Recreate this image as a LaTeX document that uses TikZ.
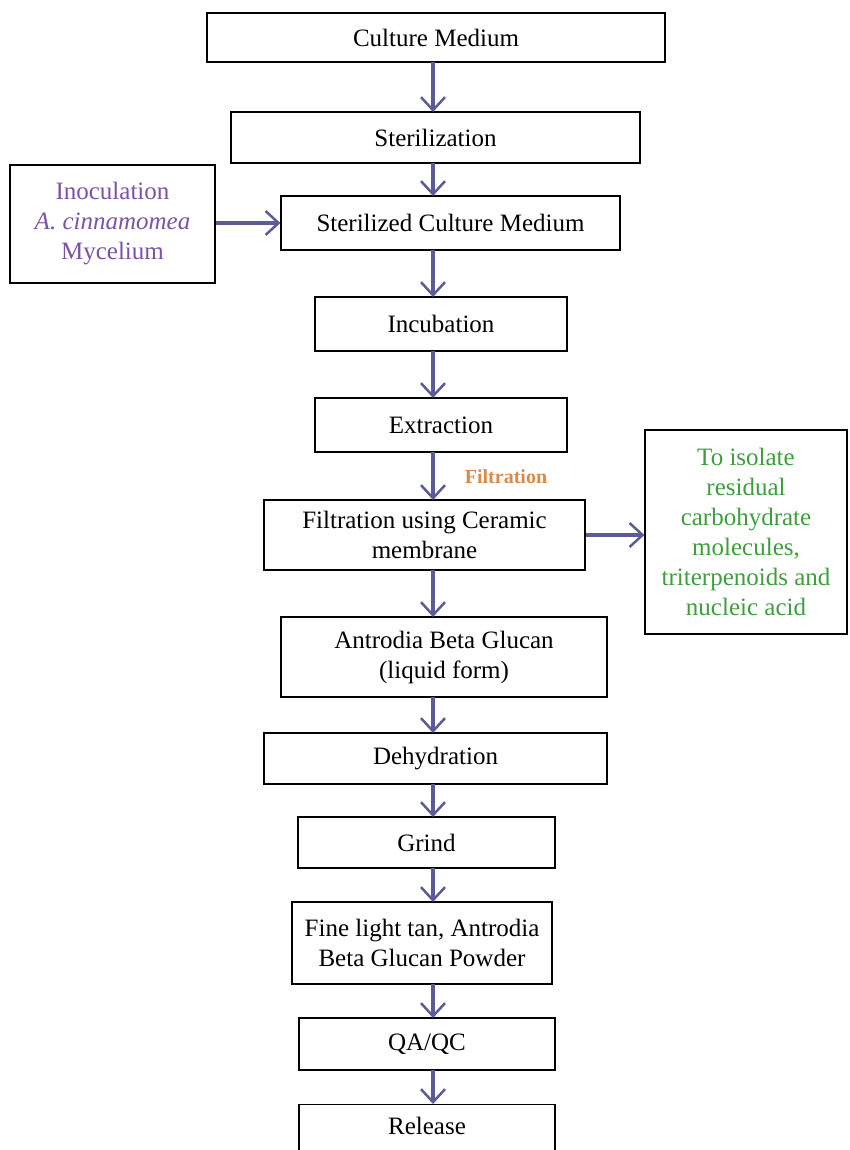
\documentclass[tikz,border=0pt]{standalone}
\usepackage{fontspec}
\setmainfont{Liberation Serif}
\usetikzlibrary{arrows.meta}
\definecolor{arr}{HTML}{5B5B96}
\definecolor{purp}{HTML}{7B52A6}
\definecolor{grn}{HTML}{3E9E3E}
\definecolor{orng}{HTML}{D98A4A}
\tikzset{
  box/.style={draw=black, line width=1.2pt, rectangle, inner sep=0pt, align=center,
    font=\fontsize{25}{30}\selectfont},
  flow/.style={draw=arr, line width=3.5pt, -{Straight Barb[length=13pt,width=24pt,line width=2.5pt]}},
}
\begin{document}
\begin{tikzpicture}[x=1pt,y=-1pt]
\useasboundingbox (0,0) rectangle (849,1150);
\clip (0,0) rectangle (849,1150);
\node[box, minimum width=458pt, minimum height=49pt] (cm) at (436,37.5) {Culture Medium};
\node[box, minimum width=409pt, minimum height=51pt] (st) at (435.5,137.5) {Sterilization};
\node[box, minimum width=205pt, minimum height=118pt, text=purp] (inoc) at (112.5,224) {Inoculation\\\textit{A. cinnamomea}\\Mycelium};
\node[box, minimum width=339pt, minimum height=54pt] (scm) at (450.5,223) {Sterilized Culture Medium};
\node[box, minimum width=252pt, minimum height=54pt] (inc) at (441,324) {Incubation};
\node[box, minimum width=252pt, minimum height=54pt] (ext) at (441,425) {Extraction};
\node[box, minimum width=321pt, minimum height=70pt] (fil) at (424.5,535) {Filtration using Ceramic\\membrane};
\node[box, minimum width=202pt, minimum height=204pt, text=grn] (iso) at (746,532) {To isolate\\residual\\carbohydrate\\molecules,\\triterpenoids and\\nucleic acid};
\node[box, minimum width=326pt, minimum height=80pt] (abg) at (444,657) {Antrodia Beta Glucan\\(liquid form)};
\node[box, minimum width=343pt, minimum height=51pt] (deh) at (435.5,758.5) {Dehydration};
\node[box, minimum width=257pt, minimum height=51pt] (gr) at (426.5,842.5) {Grind};
\node[box, minimum width=260pt, minimum height=82pt] (fine) at (422,943) {Fine light tan, Antrodia\\Beta Glucan Powder};
\node[box, minimum width=256pt, minimum height=52pt] (qa) at (427,1044) {QA/QC};
\node[box, minimum width=256pt, minimum height=56pt, anchor=north] (rel) at (427,1104) {\raisebox{14pt}{Release}};
\node[font=\fontsize{20}{22}\selectfont\bfseries, text=orng] (fl) at (506,477) {Filtration};
\draw[flow] (433,62) -- (433,112);
\draw[flow] (433,163) -- (433,196);
\draw[flow] (433,250) -- (433,297);
\draw[flow] (433,351) -- (433,398);
\draw[flow] (433,452) -- (433,500);
\draw[flow] (433,570) -- (433,617);
\draw[flow] (433,697) -- (433,733);
\draw[flow] (433,784) -- (433,817);
\draw[flow] (433,868) -- (433,902);
\draw[flow] (433,984) -- (433,1018);
\draw[flow] (433,1070) -- (433,1104);
\draw[flow] (inoc.east |- 0,223) -- (scm.west |- 0,223);
\draw[flow] (fil.east |- 0,535) -- (iso.west |- 0,535);
\end{tikzpicture}
\end{document}
